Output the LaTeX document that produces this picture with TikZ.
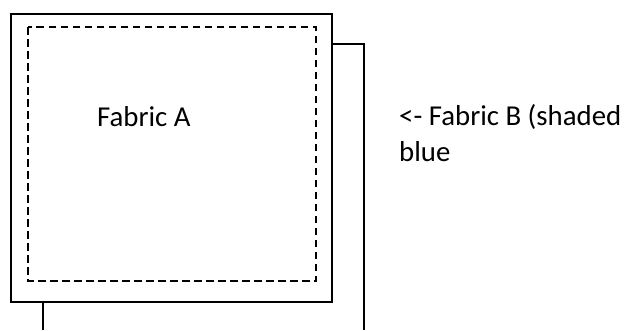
\documentclass[tikz,border=0pt]{standalone}
\usepackage{fontspec}
\setmainfont{Carlito}
\begin{document}
\begin{tikzpicture}[x=1pt,y=-1pt,
  edge/.style={draw=black,line width=1.8pt},
  seam/.style={draw=black,line width=1.8pt,dash pattern=on 7.5pt off 4.5pt},
  lbl/.style={font=\fontsize{28.8}{36}\selectfont,anchor=base west,inner sep=0pt}]
\useasboundingbox[fill=white] (0,0) rectangle (626,330);
% Fabric B (behind)
\coordinate (b1) at (43,330);
\coordinate (b2) at (43,302);
\coordinate (b3) at (332,44);
\coordinate (b4) at (364,44);
\coordinate (b5) at (364,330);
\draw[edge] (b1) -- (b2);
\draw[edge] (b3) -- (b4) -- (b5);
% Fabric A
\coordinate (a1) at (11,14);
\coordinate (a2) at (332,302);
\draw[edge] (a1) rectangle (a2);
\coordinate (d1) at (28,27);
\coordinate (d2) at (316,281);
\draw[seam] (d1) rectangle (d2);
\node[lbl] (fa) at (97,126) {Fabric A};
\node[lbl] (fb) at (399,125) {<- Fabric B (shaded};
\node[lbl] (fb2) at (399,161) {blue};
\end{tikzpicture}
\end{document}
